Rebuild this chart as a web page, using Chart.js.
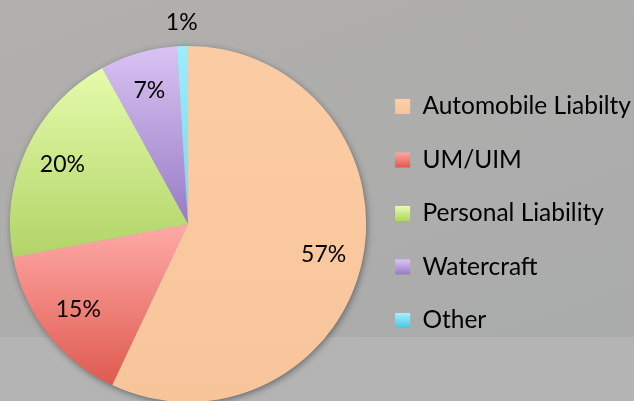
<!DOCTYPE html>
<html>
<head>
<meta charset="utf-8">
<script src="https://cdn.jsdelivr.net/npm/chart.js@4.4.1/dist/chart.umd.min.js"></script>
<style>
  html, body { margin: 0; padding: 0; overflow: hidden; }
  body {
    width: 634px;
    height: 401px;
    background:
      linear-gradient(to bottom, transparent 0, transparent 337px, #b4b4b4 337px),
      linear-gradient(160deg, #b1b0ae 0%, #adadac 45%, #a9abab 100%);
  }
  .wrap { position: relative; width: 634px; height: 403px; }
</style>
</head>
<body>
<div class="wrap"><canvas id="pieChart"></canvas></div>
<script>
const categories = ['Automobile Liabilty', 'UM/UIM', 'Personal Liability', 'Watercraft', 'Other'];
const shares = [57, 15, 20, 7, 1];
const percentLabels = ['57%', '15%', '20%', '7%', '1%'];

// slice gradients, light at top, darker at bottom
const topColors = ['#fbcca3', '#ffaaa7', '#e5fbab', '#d9c3f3', '#9decfb'];
const bottomColors = ['#f8c59b', '#df5a4f', '#b1d467', '#987bc5', '#76daf1'];
const boxTop = ['#fcd0a9', '#ffa6a4', '#e8fcb0', '#dac4f5', '#a3f2ff'];
const boxBottom = ['#f7c496', '#e0584f', '#aed462', '#9679c6', '#4cc5e2'];

const LEGEND_FONT = 24.5;
const BOX = 15;

function sliceFill(context) {
  const chart = context.chart;
  const area = chart.chartArea;
  const i = context.dataIndex;
  if (!area) return topColors[i];
  const cx = (area.left + area.right) / 2;
  const cy = (area.top + area.bottom) / 2;
  const r = Math.min(area.right - area.left, area.bottom - area.top) / 2;
  const total = shares.reduce((a, b) => a + b, 0);
  const before = shares.slice(0, i).reduce((a, b) => a + b, 0);
  const a0 = -Math.PI / 2 + 2 * Math.PI * before / total;
  const a1 = a0 + 2 * Math.PI * shares[i] / total;
  const ys = [cy, cy + r * Math.sin(a0), cy + r * Math.sin(a1)];
  if (a0 <= -Math.PI / 2 + 1e-6) ys.push(cy - r);
  if (a0 < Math.PI / 2 && a1 > Math.PI / 2) ys.push(cy + r);
  if (a1 >= 1.5 * Math.PI - 1e-6) ys.push(cy - r);
  const g = chart.ctx.createLinearGradient(0, Math.min(...ys), 0, Math.max(...ys));
  g.addColorStop(0, topColors[i]);
  g.addColorStop(1, bottomColors[i]);
  return g;
}

// soft drop shadow behind the whole pie
const pieShadow = {
  id: 'pieShadow',
  beforeDatasetsDraw(chart) {
    const arc = chart.getDatasetMeta(0).data[0];
    if (!arc) return;
    const {x, y, outerRadius} = arc.getProps(['x', 'y', 'outerRadius'], true);
    const ctx = chart.ctx;
    ctx.save();
    ctx.shadowColor = 'rgba(0,0,0,0.45)';
    ctx.shadowBlur = 7;
    ctx.shadowOffsetX = 1;
    ctx.shadowOffsetY = 2;
    ctx.fillStyle = '#aaaaaa';
    ctx.beginPath();
    ctx.arc(x, y, outerRadius - 0.5, 0, Math.PI * 2);
    ctx.fill();
    ctx.restore();
  }
};

// percentage labels
const pctLabels = {
  id: 'pctLabels',
  afterDatasetsDraw(chart) {
    const ctx = chart.ctx;
    const meta = chart.getDatasetMeta(0);
    ctx.save();
    ctx.font = '23px Lato';
    ctx.fillStyle = '#000';
    ctx.textAlign = 'center';
    ctx.textBaseline = 'middle';
    meta.data.forEach((arc, i) => {
      const p = arc.getProps(['x', 'y', 'startAngle', 'endAngle', 'outerRadius'], true);
      const mid = (p.startAngle + p.endAngle) / 2;
      const r = shares[i] < 3 ? p.outerRadius + 23 : p.outerRadius * 0.78;
      ctx.fillText(percentLabels[i], p.x + r * Math.cos(mid), p.y + r * Math.sin(mid));
    });
    ctx.restore();
  }
};

// gradient legend boxes
const legendBoxFill = {
  id: 'legendBoxFill',
  beforeDraw(chart) {
    const legend = chart.legend;
    if (!legend || !legend.legendHitBoxes) return;
    legend.legendItems.forEach((item, i) => {
      const hb = legend.legendHitBoxes[i];
      if (!hb) return;
      const top = hb.top + Math.max((LEGEND_FONT - BOX) / 2, 0);
      const g = chart.ctx.createLinearGradient(0, top, 0, top + BOX);
      g.addColorStop(0, boxTop[i]);
      g.addColorStop(1, boxBottom[i]);
      item.fillStyle = g;
    });
  }
};

new Chart(document.getElementById('pieChart'), {
  type: 'pie',
  data: {
    labels: categories,
    datasets: [{
      data: shares,
      backgroundColor: sliceFill,
      borderWidth: 0
    }]
  },
  options: {
    responsive: true,
    maintainAspectRatio: false,
    animation: false,
    layout: { padding: { left: 10, top: 24, right: -7, bottom: 0 } },
    plugins: {
      // empty spacer so the pie sits lower than the legend
      title: {
        display: true,
        text: ' ',
        position: 'top',
        fullSize: false,
        padding: 0,
        font: { size: 21, lineHeight: 1 }
      },
      legend: {
        position: 'right',
        align: 'center',
        labels: {
          boxWidth: BOX,
          boxHeight: BOX,
          padding: 29,
          color: '#000',
          font: { family: 'Lato', size: LEGEND_FONT }
        }
      },
      tooltip: { enabled: false }
    }
  },
  plugins: [pieShadow, pctLabels, legendBoxFill]
});
</script>
</body>
</html>
